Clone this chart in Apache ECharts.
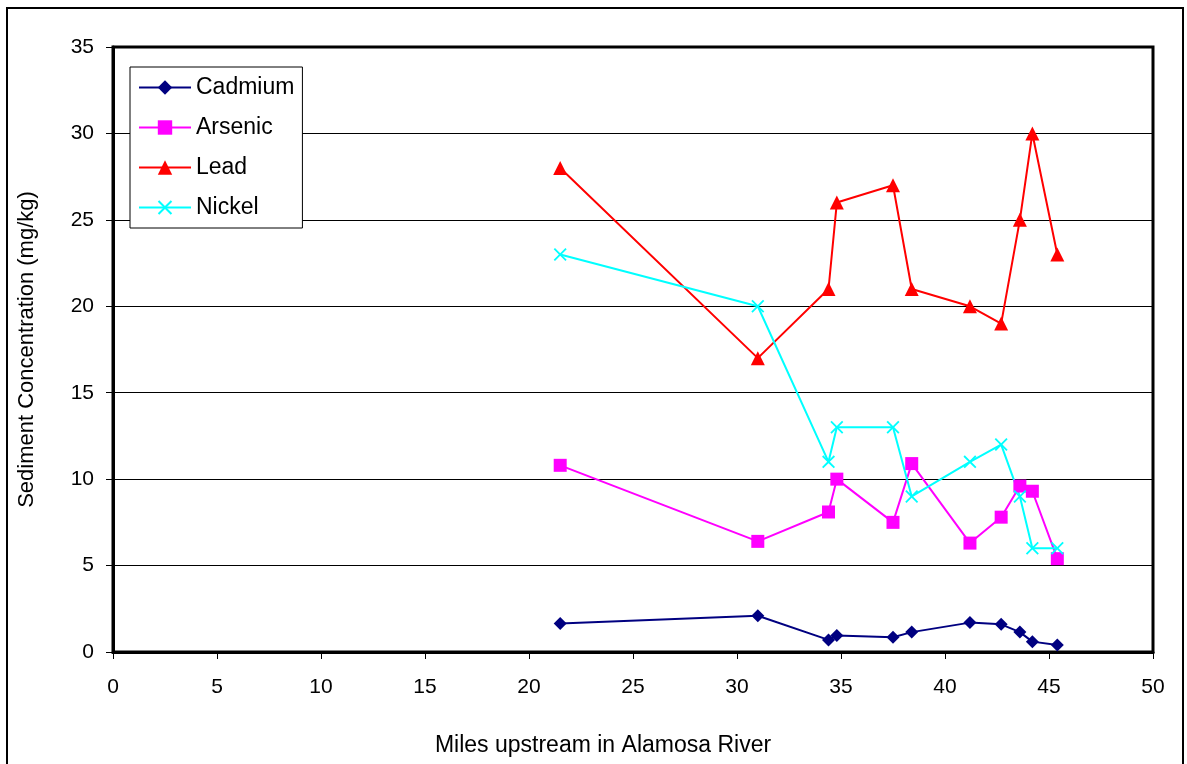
<!DOCTYPE html>
<html>
<head>
<meta charset="utf-8">
<script src="https://cdn.jsdelivr.net/npm/echarts@6/dist/echarts.min.js"></script>
<style>
  html, body { margin: 0; padding: 0; background: #fff; }
  #chart { width: 1187px; height: 764px; }
</style>
</head>
<body>
<div id="chart"></div>
<script>
// miles upstream, shared by all four metals
const miles = [21.5, 31.0, 34.4, 34.8, 37.5, 38.4, 41.2, 42.7, 43.6, 44.2, 45.4];
const cadmium = [1.65, 2.1, 0.7, 0.95, 0.85, 1.15, 1.7, 1.6, 1.15, 0.6, 0.4];
const arsenic = [10.8, 6.4, 8.1, 10, 7.5, 10.9, 6.3, 7.8, 9.6, 9.3, 5.4];
const lead = [28, 17, 21, 26, 27, 21, 20, 19, 25, 30, 23];
const nickel = [23, 20, 11, 13, 13, 9, 11, 12, 9, 6, 6];

const font = '"Liberation Sans", Arial, sans-serif';
const crossPath = 'path://M0,1 L1,0 L5,4 L9,0 L10,1 L6,5 L10,9 L9,10 L5,6 L1,10 L0,9 L4,5 Z';

function pairs(vals) {
  return miles.map((m, i) => [m, vals[i]]);
}

function makeSeries(name, vals, color, symbol, size) {
  return {
    name: name,
    type: 'line',
    data: pairs(vals),
    symbol: symbol,
    symbolSize: size,
    showAllSymbol: true,
    lineStyle: { color: color, width: 2 },
    itemStyle: { color: color },
    emphasis: { disabled: true },
    animation: false
  };
}

const chart = echarts.init(document.getElementById('chart'));
chart.setOption({
  backgroundColor: '#fff',
  textStyle: { fontFamily: font },
  graphic: [{
    type: 'rect',
    shape: { x: 7, y: 8, width: 1176, height: 780 },
    style: { fill: 'none', stroke: '#000', lineWidth: 2 },
    silent: true
  }],
  grid: {
    left: 113, top: 47, width: 1040, height: 605,
    show: true, borderColor: '#000', borderWidth: 3, backgroundColor: 'transparent'
  },
  legend: {
    orient: 'vertical',
    left: 130, top: 67,
    padding: [9, 8, 9, 8],
    itemWidth: 52, itemHeight: 18, itemGap: 17,
    backgroundColor: '#fff',
    borderColor: '#000', borderWidth: 1,
    textStyle: { fontSize: 23, color: '#000', fontFamily: font },
    data: ['Cadmium', 'Arsenic', 'Lead', 'Nickel']
  },
  xAxis: {
    type: 'value',
    min: 0, max: 50, interval: 5,
    name: 'Miles upstream in Alamosa River',
    nameLocation: 'middle', nameGap: 82,
    nameTextStyle: { fontSize: 23, color: '#000', fontFamily: font, padding: [0, 60, 0, 0] },
    axisLine: { lineStyle: { color: '#000', width: 3 } },
    axisTick: { show: true, length: 7, lineStyle: { color: '#000', width: 1 } },
    axisLabel: { fontSize: 21, color: '#000', margin: 25, fontFamily: font },
    splitLine: { show: false }
  },
  yAxis: {
    type: 'value',
    min: 0, max: 35, interval: 5,
    name: 'Sediment Concentration (mg/kg)',
    nameLocation: 'middle', nameGap: 75,
    nameTextStyle: { fontSize: 22, color: '#000', fontFamily: font },
    axisLine: { lineStyle: { color: '#000', width: 3 } },
    axisTick: { show: true, length: 7, lineStyle: { color: '#000', width: 1 } },
    axisLabel: { fontSize: 21, color: '#000', margin: 19, fontFamily: font },
    splitLine: { show: true, lineStyle: { color: '#000', width: 1 } }
  },
  series: [
    makeSeries('Cadmium', cadmium, '#000080', 'diamond', 13),
    makeSeries('Arsenic', arsenic, '#ff00ff', 'rect', 13),
    makeSeries('Lead', lead, '#ff0000', 'triangle', 14),
    makeSeries('Nickel', nickel, '#00ffff', crossPath, 13)
  ]
});
</script>
</body>
</html>
